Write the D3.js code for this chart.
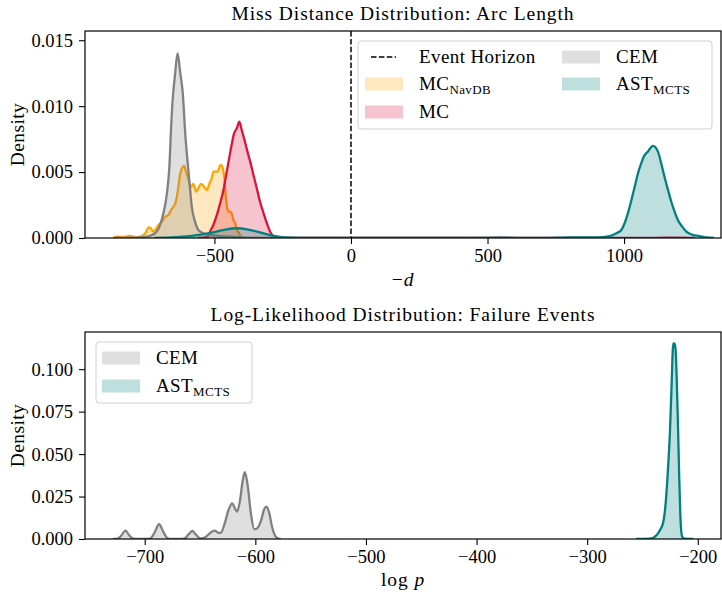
<!DOCTYPE html>
<meta charset="utf-8">
<style>
body { margin: 0; background: #fff; }
svg { font-family: "Liberation Serif", "DejaVu Serif", serif; }
.axis path { display: none; }
.axis line { stroke: #000; stroke-width: 1.1px; }
.axis text { font-size: 18.5px; fill: #000; }
.curve { fill: none; stroke-width: 2.3px; stroke-linejoin: round; }
.lbl { font-size: 19.5px; letter-spacing: 0.9px; }
.leg { font-size: 19px; letter-spacing: 0.4px; }
</style>
<svg width="722" height="592"></svg>
<script src="https://d3js.org/d3.v7.min.js"></script>
<script>

// ---- data (x, density) ----
// top panel: miss distance (-d)
var navdbDist = [[-870,0],[-857,0.0001],[-830,0.00008],[-808,0.00015],[-790,0.00006],[-772,0.0001],[-753,0.00036],
  [-741,0.00081],[-733,0.00074],[-725,0.00048],[-717,0.00061],[-705,0.00099],[-692,0.00124],[-680,0.00162],
  [-668,0.00175],[-659,0.00212],[-650,0.00237],[-640,0.00288],[-632,0.00389],[-625,0.00491],[-619,0.00529],
  [-611,0.00546],[-604,0.00503],[-595,0.0044],[-586,0.00389],[-577,0.0041],[-567,0.00351],[-559,0.00377],
  [-549,0.0041],[-538,0.00389],[-528,0.00364],[-518,0.00415],[-510,0.00453],[-504,0.00503],[-489,0.00503],
  [-477,0.00554],[-471,0.00541],[-467,0.00503],[-463,0.0044],[-460,0.00351],[-455,0.0025],[-449,0.002],
  [-443,0.002],[-435,0.00175],[-431,0.00137],[-424,0.00112],[-418,0.00061],[-411,0.0004],[-403,0.0001],[-390,0]];

var mcDist = [[-560,0],[-540,0.00003],[-522,0.00015],[-516,0.00048],[-504,0.00099],[-491,0.00175],[-479,0.00263],
  [-467,0.00364],[-455,0.00503],[-445,0.00617],[-436,0.00718],[-428,0.00794],[-418,0.00832],[-409,0.00882],
  [-400,0.00819],[-390,0.00744],[-379,0.00655],[-369,0.00579],[-357,0.00478],[-345,0.00377],[-333,0.00275],
  [-320,0.00187],[-308,0.00112],[-296,0.00048],[-284,0.00015],[-260,0.00003],[-240,0],[1080,0],[1150,0.00003],
  [1200,0.00003],[1260,0]];

var cemDist = [[-870,0],[-800,0.00003],[-760,0.00006],[-747,0.0001],[-717,0.00036],[-699,0.00099],[-687,0.00187],
  [-674,0.00339],[-665,0.00541],[-658,0.0087],[-654,0.0102],[-645,0.01224],[-635,0.0140],[-625,0.0125],
  [-616,0.0110],[-607,0.00794],[-599,0.00592],[-591,0.00415],[-583,0.00238],[-571,0.00124],[-559,0.00061],
  [-540,0.00036],[-516,0.00023],[-480,0.00015],[-440,0.0001],[-400,0.00005],[-340,0.00001],[-300,0],
  [480,0],[545,0.00004],[610,0]];

var astDist = [[-720,0],[-640,0.00006],[-600,0.00012],[-550,0.00026],[-500,0.00045],[-460,0.00064],[-418,0.00074],
  [-380,0.00066],[-340,0.00046],[-300,0.00024],[-260,0.00008],[-220,0.00002],[-150,0],[700,0.00001],
  [810,0.00005],[900,0.00004],[947,0.00015],[972,0.00036],[990,0.00061],[1002,0.00112],[1014,0.00187],
  [1027,0.00288],[1039,0.00389],[1051,0.00491],[1063,0.00567],[1072,0.00617],[1087,0.00655],[1106,0.00698],
  [1124,0.00655],[1136,0.00567],[1148,0.00465],[1161,0.00364],[1173,0.00275],[1185,0.002],[1197,0.00137],
  [1213,0.00086],[1228,0.00048],[1252,0.00023],[1276,0.00015],[1300,0.00005],[1330,0]];

// bottom panel: log-likelihood of failure events
var cemLogp = [[-729,0],[-724,0.0004],[-721,0.0022],[-717.5,0.0049],[-714,0.0022],[-711,0.0004],[-706,0],
  [-697,0],[-694,0.0008],[-691,0.004],[-687,0.0087],[-683,0.004],[-680,0.0008],[-676,0],[-666,0],
  [-663,0.0008],[-660,0.003],[-657,0.0047],[-654,0.0028],[-651,0.0008],[-648.7,0.0004],[-645,0.0012],
  [-640,0.004],[-636.7,0.0049],[-633,0.0036],[-631,0.0038],[-628,0.0085],[-624,0.0175],[-621,0.021],
  [-618,0.0175],[-616.5,0.0161],[-614,0.022],[-611.5,0.034],[-609.5,0.0393],[-607,0.032],[-604,0.015],
  [-601,0.0058],[-598.5,0.0062],[-595,0.0105],[-592,0.0175],[-590,0.019],[-587.5,0.0155],[-585,0.0075],
  [-582,0.0018],[-579,0.0002],[-577,0]];

var astLogp = [[-255.8,0],[-243.3,0.0002],[-237.1,0.0024],[-234.1,0.0053],[-231.1,0.0102],[-229.6,0.0171],
  [-228.1,0.0289],[-226.6,0.0446],[-225.1,0.0642],[-223.5,0.0937],[-222.6,0.1114],[-221.9,0.1153],
  [-221.2,0.1130],[-220.6,0.1150],[-219.9,0.1100],[-219.0,0.0937],[-217.8,0.0642],[-216.7,0.0348],
  [-215.7,0.0131],[-214.5,0.0024],[-213.0,0.0004],[-204,0]];

var topXTicks = [-500, 0, 500, 1000];
var topYTicks = [0, 0.005, 0.01, 0.015];
var botXTicks = [-700, -600, -500, -400, -300, -200];
var botYTicks = [0, 0.025, 0.05, 0.075, 0.1];

var colors = {navdb: "#ffa500", mc: "#dc143c", cem: "#808080", ast: "#008080"};

var svg = d3.select("svg");

function minus(s) { return s.replace("-", "\u2212"); }

function panel(opt) {
  var x = d3.scaleLinear().domain(opt.xd).range([85, 721]);
  var y = d3.scaleLinear().domain(opt.yd).range([opt.bottom, opt.top]);
  var g = svg.append("g");

  var area = d3.area().curve(d3.curveMonotoneX)
      .x(function(d) { return x(d[0]); }).y0(y(0)).y1(function(d) { return y(d[1]); });
  var line = d3.line().curve(d3.curveMonotoneX)
      .x(function(d) { return x(d[0]); }).y(function(d) { return y(d[1]); });

  g.append("clipPath").attr("id", "clip" + opt.top)
    .append("rect").attr("x", 85).attr("y", opt.top).attr("width", 636).attr("height", opt.bottom - opt.top);

  var plot = g.append("g").attr("clip-path", "url(#clip" + opt.top + ")");

  opt.series.forEach(function(s) {
    plot.append("path").datum(s.values)
      .attr("d", area).attr("fill", s.color).attr("fill-opacity", 0.25);
    plot.append("path").datum(s.values)
      .attr("class", "curve").attr("d", line).attr("stroke", s.color);
  });

  if (opt.vline !== undefined) {
    plot.append("line")
      .attr("x1", x(opt.vline)).attr("x2", x(opt.vline))
      .attr("y1", opt.top).attr("y2", opt.bottom)
      .attr("stroke", "#000").attr("stroke-width", 1.5).attr("stroke-dasharray", "5.5,2.4");
  }

  // d3 axes put a sans-serif font on their group; drop it so the serif face is inherited
  g.append("g").attr("class", "axis")
    .attr("transform", "translate(0," + opt.bottom + ")")
    .call(d3.axisBottom(x).tickValues(opt.xt).tickSize(6).tickPadding(5)
      .tickFormat(function(d) { return minus(String(d)); }))
    .attr("font-family", null).attr("font-size", null);

  g.append("g").attr("class", "axis")
    .attr("transform", "translate(85,0)")
    .call(d3.axisLeft(y).tickValues(opt.yt).tickSize(6).tickPadding(6).tickFormat(d3.format(".3f")))
    .attr("font-family", null).attr("font-size", null);

  g.append("rect")
    .attr("x", 85).attr("y", opt.top).attr("width", 636).attr("height", opt.bottom - opt.top)
    .attr("fill", "none").attr("stroke", "#000").attr("stroke-width", 1.2);

  g.append("text").attr("class", "lbl")
    .attr("x", 403).attr("y", opt.top - 11).attr("text-anchor", "middle")
    .text(opt.title);

  g.append("text").attr("class", "lbl")
    .attr("transform", "translate(24," + (opt.top + opt.bottom) / 2 + ") rotate(-90)")
    .attr("text-anchor", "middle").style("letter-spacing", "0.4px").text("Density");

  return {x: x, y: y, g: g};
}

function label(sel, name, sub) {
  sel.append("tspan").text(name);
  if (sub) sel.append("tspan").attr("dy", 4).style("font-size", "13px").text(sub);
}

function legend(box, items) {
  var lg = svg.append("g");
  lg.append("rect")
    .attr("x", box.x).attr("y", box.y).attr("width", box.w).attr("height", box.h).attr("rx", 3)
    .attr("fill", "#fff").attr("fill-opacity", 0.8).attr("stroke", "#d0d0d0").attr("stroke-width", 1);
  items.forEach(function(it) {
    if (it.dash) {
      lg.append("line").attr("x1", it.x + 6).attr("x2", it.x + 31).attr("y1", it.y).attr("y2", it.y)
        .attr("stroke", "#000").attr("stroke-width", 1.5).attr("stroke-dasharray", "5.5,2.4");
    } else {
      lg.append("rect").attr("x", it.x).attr("y", it.y - 6.5).attr("width", 38).attr("height", 13)
        .attr("fill", it.color).attr("fill-opacity", 0.25);
    }
    var t = lg.append("text").attr("class", "leg").attr("x", it.x + 54).attr("y", it.y + 6);
    label(t, it.name, it.sub);
  });
}

panel({
  xd: [-974, 1355], yd: [0, 0.0157], top: 31, bottom: 238,
  xt: topXTicks, yt: topYTicks, vline: 0,
  title: "Miss Distance Distribution: Arc Length",
  series: [
    {values: navdbDist, color: colors.navdb},
    {values: mcDist, color: colors.mc},
    {values: cemDist, color: colors.cem},
    {values: astDist, color: colors.ast}
  ]
});

panel({
  xd: [-754, -179], yd: [0, 0.1219], top: 332, bottom: 539,
  xt: botXTicks, yt: botYTicks,
  title: "Log-Likelihood Distribution: Failure Events",
  series: [
    {values: cemLogp, color: colors.cem},
    {values: astLogp, color: colors.ast}
  ]
});

// x-axis labels
var xl1 = svg.append("text").attr("class", "lbl").attr("x", 403).attr("y", 286).attr("text-anchor", "middle");
xl1.append("tspan").text("\u2212");
xl1.append("tspan").style("font-style", "italic").text("d");

var xl2 = svg.append("text").attr("class", "lbl").attr("x", 403).attr("y", 586).attr("text-anchor", "middle");
xl2.append("tspan").text("log ");
xl2.append("tspan").style("font-style", "italic").text("p");

legend({x: 358, y: 41, w: 354, h: 88}, [
  {x: 365, y: 57, dash: true, name: "Event Horizon"},
  {x: 365, y: 84, color: colors.navdb, name: "MC", sub: "NavDB"},
  {x: 365, y: 112, color: colors.mc, name: "MC"},
  {x: 562, y: 57, color: colors.cem, name: "CEM"},
  {x: 562, y: 84, color: colors.ast, name: "AST", sub: "MCTS"}
]);

legend({x: 96, y: 342, w: 156, h: 61}, [
  {x: 102, y: 358, color: colors.cem, name: "CEM"},
  {x: 102, y: 386, color: colors.ast, name: "AST", sub: "MCTS"}
]);

</script>
